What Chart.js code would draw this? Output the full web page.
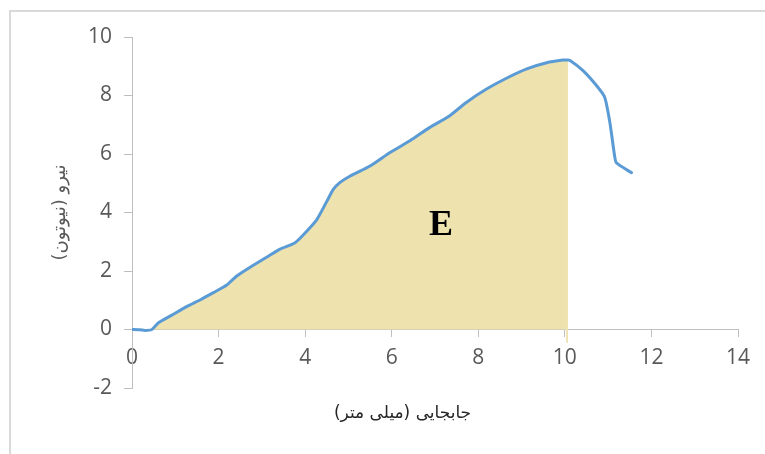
<!DOCTYPE html>
<html lang="fa">
<head>
<meta charset="utf-8">
<script src="https://cdn.jsdelivr.net/npm/chart.js"></script>
<style>
  html, body { margin: 0; padding: 0; background: #fff; }
  #wrap { position: relative; width: 765px; height: 454px; overflow: hidden; }
  #frame { position: absolute; left: 9px; top: 10px; width: 800px; height: 500px;
           border-left: 2px solid #d9d9d9; border-top: 2px solid #d9d9d9; }
  #chartCanvas { position: absolute; left: 0; top: 0; }
</style>
</head>
<body>
<div id="wrap">
  <div id="frame"></div>
  <canvas id="chartCanvas" width="765" height="454"></canvas>
</div>

<script>
  // جابجایی (mm) و نیرو (N) خوانده شده از نمودار
  const dispX = [0, 0.18, 0.30, 0.45, 0.61, 0.92, 1.26, 1.57, 1.88, 2.19, 2.42, 2.73, 3.11, 3.42, 3.76, 3.96,
                 4.27, 4.50, 4.65, 4.80, 5.03, 5.50, 5.96, 6.42, 6.88, 7.34, 7.73, 8.19, 8.65, 9.12, 9.58, 9.96,
                 10.05, 10.12, 10.42, 10.73, 10.92, 11.04, 11.15, 11.19, 11.54];
  const force = [0, -0.01, -0.03, -0.01, 0.23, 0.49, 0.78, 1.01, 1.26, 1.52, 1.83, 2.13, 2.47, 2.75, 2.96, 3.24,
                 3.76, 4.38, 4.79, 5.02, 5.24, 5.59, 6.05, 6.45, 6.91, 7.31, 7.77, 8.22, 8.59, 8.91, 9.12, 9.21,
                 9.21, 9.20, 8.85, 8.34, 7.94, 7.08, 5.93, 5.70, 5.36];
  const areaEnd = 10.05;          // انتهای ناحیه E
  const dropX = [10.05, 10.05];   // لبه عمودی ناحیه
  const dropY = [9.21, -0.45];
  const xTicks = { min: 0, max: 14, step: 2 };
  const yTicks = { min: -2, max: 10, step: 2 };
  const areaLabel = { text: 'E', x: 7.14, y: 3.55 };
  const xTitle = { text: 'جابجایی (میلی متر)', x: 6.25 };
  const yTitle = 'نیرو (نیوتون)';

  const curve = dispX.map((x, i) => ({ x: x, y: force[i] }));
  const area = curve.filter(p => p.x <= areaEnd);
  const drop = dropX.map((x, i) => ({ x: x, y: dropY[i] }));

  const labelsPlugin = {
    id: 'labelsPlugin',
    afterDatasetsDraw(chart) {
      const ctx = chart.ctx;
      const xs = chart.scales.x, ys = chart.scales.y;
      ctx.save();
      ctx.fillStyle = '#000';
      ctx.font = 'bold 36px "Liberation Serif", "Times New Roman", serif';
      ctx.textAlign = 'center';
      ctx.textBaseline = 'middle';
      ctx.fillText(areaLabel.text, xs.getPixelForValue(areaLabel.x), ys.getPixelForValue(areaLabel.y));

      ctx.direction = 'rtl';
      ctx.fillStyle = '#262626';
      ctx.font = '17px "DejaVu Sans", sans-serif';
      ctx.fillText(xTitle.text, xs.getPixelForValue(xTitle.x), chart.chartArea.bottom + 26);
      ctx.restore();
    }
  };

  const tickFont = { family: '"Open Sans", sans-serif', size: 21 };

  const chart = new Chart(document.getElementById('chartCanvas').getContext('2d'), {
    type: 'scatter',
    data: {
      datasets: [
        {
          label: 'area',
          data: area,
          showLine: true,
          fill: 'origin',
          backgroundColor: '#EEE2AE',
          borderWidth: 0,
          pointRadius: 0,
          tension: 0,
          order: 3
        },
        {
          label: 'edge',
          data: drop,
          showLine: true,
          fill: false,
          borderColor: '#EFE3B2',
          borderWidth: 2,
          pointRadius: 0,
          order: 2
        },
        {
          label: 'force',
          data: curve,
          showLine: true,
          fill: false,
          borderColor: '#5B9BD5',
          borderWidth: 3,
          borderCapStyle: 'round',
          borderJoinStyle: 'round',
          pointRadius: 0,
          tension: 0.2,
          order: 1
        }
      ]
    },
    options: {
      responsive: false,
      animation: false,
      layout: { padding: { top: 37, right: 27, bottom: 66, left: 0 } },
      plugins: { legend: { display: false }, tooltip: { enabled: false } },
      scales: {
        x: {
          type: 'linear',
          position: { y: 0 },
          min: xTicks.min,
          max: xTicks.max,
          ticks: { stepSize: xTicks.step, color: '#595959', font: tickFont, padding: 9, maxRotation: 0 },
          grid: { display: true, drawOnChartArea: false, drawTicks: true, tickLength: 7, color: '#BFBFBF' },
          border: { color: '#BFBFBF', width: 1 }
        },
        y: {
          type: 'linear',
          min: yTicks.min,
          max: yTicks.max,
          ticks: { stepSize: yTicks.step, color: '#595959', font: tickFont, padding: 12 },
          grid: { display: true, drawOnChartArea: false, drawTicks: true, tickLength: 8, color: '#BFBFBF' },
          border: { color: '#BFBFBF', width: 1 },
          title: {
            display: true,
            text: yTitle + '\u200F',
            color: '#595959',
            font: { family: '"DejaVu Sans", sans-serif', size: 18 },
            padding: { top: 50, bottom: 0 }
          },
          afterFit: s => { s.width = 132; }
        }
      }
    },
    plugins: [labelsPlugin]
  });
</script>
</body>
</html>
